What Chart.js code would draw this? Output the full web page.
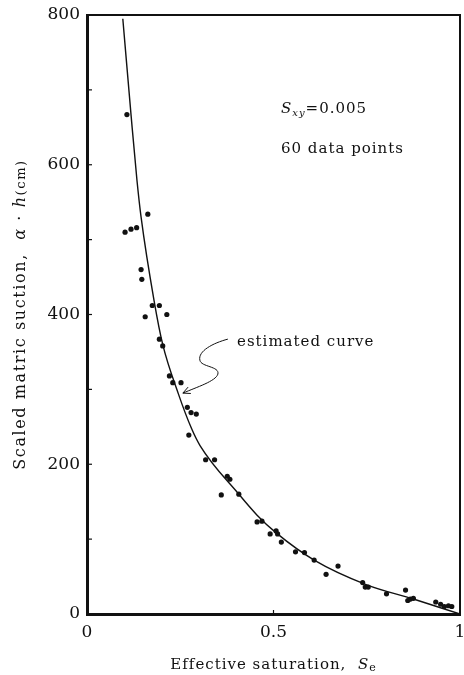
<!DOCTYPE html>
<html>
<head>
<meta charset="utf-8">
<title>Scaled matric suction vs effective saturation</title>
<script src="https://cdn.jsdelivr.net/npm/chart.js@4.4.1/dist/chart.umd.min.js"></script>
<style>
  html, body { margin: 0; padding: 0; background: #fff; }
  #chart { display: block; }
</style>
</head>
<body>
<canvas id="chart" width="464" height="675"></canvas>
<script>
// measured points (effective saturation Se, scaled suction a*h in cm)
const seValues = [
  0.107, 0.163, 0.102, 0.118, 0.133, 0.145, 0.147, 0.175, 0.194, 0.156,
  0.214, 0.194, 0.203, 0.221, 0.230, 0.252, 0.269, 0.279, 0.293, 0.273,
  0.318, 0.342, 0.360, 0.376, 0.383, 0.407, 0.456, 0.469, 0.491, 0.507,
  0.511, 0.521, 0.559, 0.583, 0.609, 0.641, 0.673, 0.739, 0.746, 0.754,
  0.803, 0.854, 0.860, 0.867, 0.875, 0.935, 0.948, 0.958, 0.969, 0.978
];
const suctionValues = [
  667, 534, 510, 514, 516, 460, 447, 412, 412, 397,
  400, 367, 358, 318, 309, 309, 276, 269, 267, 239,
  206, 206, 159, 184, 180, 160, 123, 124, 107, 111,
  107, 96, 83, 82, 72, 53, 64, 42, 36, 36,
  27, 32, 18, 20, 21, 16, 13, 10, 11, 10
];

// estimated curve
const curveSe = [0.096, 0.118, 0.134, 0.145, 0.180, 0.203, 0.245, 0.280, 0.303, 0.407, 0.456, 0.508, 0.609, 0.750, 0.875, 1.0];
const curveSuction = [795, 667, 579, 530, 418, 360, 294, 248, 225, 160, 132, 108, 72, 39, 20, 0];

const xTicks = [0, 0.5, 1];
const yTicks = [0, 200, 400, 600, 800];
const yTickMarks = [100, 200, 300, 400, 500, 600, 700];
const xTickMarks = [0.5];

const serif = 'DejaVu Serif';

const points = seValues.map((v, i) => ({ x: v, y: suctionValues[i] }));
const curve = curveSe.map((v, i) => ({ x: v, y: curveSuction[i] }));

// write a row of text runs (normal / italic / subscript) starting at x
function drawRuns(ctx, runs, x, y, align) {
  let total = 0;
  runs.forEach(r => {
    ctx.font = (r.italic ? 'italic ' : '') + r.size + 'px "' + serif + '"';
    r.w = ctx.measureText(r.text).width;
    total += r.w;
  });
  let cx = align === 'center' ? x - total / 2 : x;
  runs.forEach(r => {
    ctx.font = (r.italic ? 'italic ' : '') + r.size + 'px "' + serif + '"';
    ctx.fillText(r.text, cx, y + (r.dy || 0));
    cx += r.w;
  });
}

const paperText = {
  id: 'paperText',
  afterDraw(chart) {
    const { ctx, chartArea } = chart;
    const x = chart.scales.x, y = chart.scales.y;
    ctx.save();
    ctx.fillStyle = '#111';
    ctx.strokeStyle = '#111';
    ctx.textBaseline = 'alphabetic';
    ctx.textAlign = 'left';

    // inward tick marks
    ctx.lineWidth = 1.2;
    yTickMarks.forEach(v => {
      const py = y.getPixelForValue(v);
      ctx.beginPath();
      ctx.moveTo(chartArea.left, py);
      ctx.lineTo(chartArea.left + 5, py);
      ctx.stroke();
    });
    xTickMarks.forEach(v => {
      const px = x.getPixelForValue(v);
      ctx.beginPath();
      ctx.moveTo(px, chartArea.bottom);
      ctx.lineTo(px, chartArea.bottom - 4);
      ctx.stroke();
    });

    ctx.letterSpacing = '1px';

    // x axis title
    drawRuns(ctx, [
      { text: 'Effective saturation,  ', size: 15 },
      { text: 'S', size: 15, italic: true },
      { text: 'e', size: 11, dy: 2 }
    ], (chartArea.left + chartArea.right) / 2, 669, 'center');

    // y axis title, rotated
    ctx.save();
    ctx.letterSpacing = '1.6px';
    ctx.translate(19, (chartArea.top + chartArea.bottom) / 2);
    ctx.rotate(-Math.PI / 2);
    drawRuns(ctx, [
      { text: 'Scaled matric suction,  ', size: 16 },
      { text: 'α', size: 16, italic: true },
      { text: ' · ', size: 16 },
      { text: 'h', size: 16, italic: true },
      { text: '(cm)', size: 13 }
    ], 0, 6, 'center');
    ctx.restore();

    // statistics note
    drawRuns(ctx, [
      { text: 'S', size: 15, italic: true },
      { text: 'xy', size: 10, italic: true, dy: 3 },
      { text: '=0.005', size: 15 }
    ], 281, 113, 'left');
    drawRuns(ctx, [{ text: '60 data points', size: 15 }], 281, 153, 'left');

    // label and wavy arrow to the curve
    drawRuns(ctx, [{ text: 'estimated curve', size: 15 }], 237, 346, 'left');
    const tx = x.getPixelForValue(0.257), ty = y.getPixelForValue(295);
    ctx.lineWidth = 1;
    ctx.beginPath();
    ctx.moveTo(tx + 45, ty - 54);
    ctx.bezierCurveTo(tx + 30, ty - 50, tx + 15, ty - 42, tx + 17, ty - 33);
    ctx.bezierCurveTo(tx + 18, ty - 26, tx + 37, ty - 27, tx + 35, ty - 19);
    ctx.bezierCurveTo(tx + 33, ty - 12, tx + 14, ty - 6, tx, ty);
    ctx.stroke();
    const ang = Math.atan2(6, -14);
    [0.45, -0.45].forEach(d => {
      ctx.beginPath();
      ctx.moveTo(tx, ty);
      ctx.lineTo(tx - 8 * Math.cos(ang + d), ty - 8 * Math.sin(ang + d));
      ctx.stroke();
    });
    ctx.restore();
  }
};

const ctx = document.getElementById('chart').getContext('2d');
const chart = new Chart(ctx, {
  type: 'scatter',
  data: {
    datasets: [{
      type: 'line',
      label: 'estimated curve',
      data: curve,
      borderColor: '#111',
      borderWidth: 1.4,
      pointRadius: 0,
      cubicInterpolationMode: 'monotone',
      fill: false
    }, {
      label: 'data',
      data: points,
      backgroundColor: '#111',
      borderWidth: 0,
      pointRadius: 2.6
    }]
  },
  options: {
    responsive: false,
    animation: false,
    layout: { padding: 0 },
    plugins: {
      legend: { display: false },
      tooltip: { enabled: false }
    },
    scales: {
      x: {
        type: 'linear',
        position: 'bottom',
        min: 0,
        max: 1,
        afterFit: s => { s.height = 61; s.paddingLeft = 0; s.paddingRight = 0; },
        afterBuildTicks: s => { s.ticks = xTicks.map(v => ({ value: v })); },
        grid: { display: false, drawTicks: false },
        border: { color: '#111', width: 3 },
        ticks: {
          padding: 8,
          color: '#111',
          maxRotation: 0,
          font: { family: serif, size: 17 },
          callback: v => String(v)
        }
      },
      y: {
        type: 'linear',
        position: 'left',
        min: 0,
        max: 800,
        afterFit: s => { s.width = 87; s.paddingTop = 0; s.paddingBottom = 0; },
        afterBuildTicks: s => { s.ticks = yTicks.map(v => ({ value: v })); },
        grid: { display: false, drawTicks: false },
        border: { color: '#111', width: 3 },
        ticks: {
          padding: 7,
          color: '#111',
          font: { family: serif, size: 17 }
        }
      },
      xTop: {
        type: 'linear',
        position: 'top',
        min: 0,
        max: 1,
        afterFit: s => { s.height = 15; s.paddingLeft = 0; s.paddingRight = 0; },
        grid: { display: false, drawTicks: false },
        border: { color: '#111', width: 2 },
        ticks: { display: false }
      },
      yRight: {
        type: 'linear',
        position: 'right',
        min: 0,
        max: 800,
        afterFit: s => { s.width = 4; s.paddingTop = 0; s.paddingBottom = 0; },
        grid: { display: false, drawTicks: false },
        border: { color: '#111', width: 2 },
        ticks: { display: false }
      }
    }
  },
  plugins: [paperText]
});
</script>
</body>
</html>
